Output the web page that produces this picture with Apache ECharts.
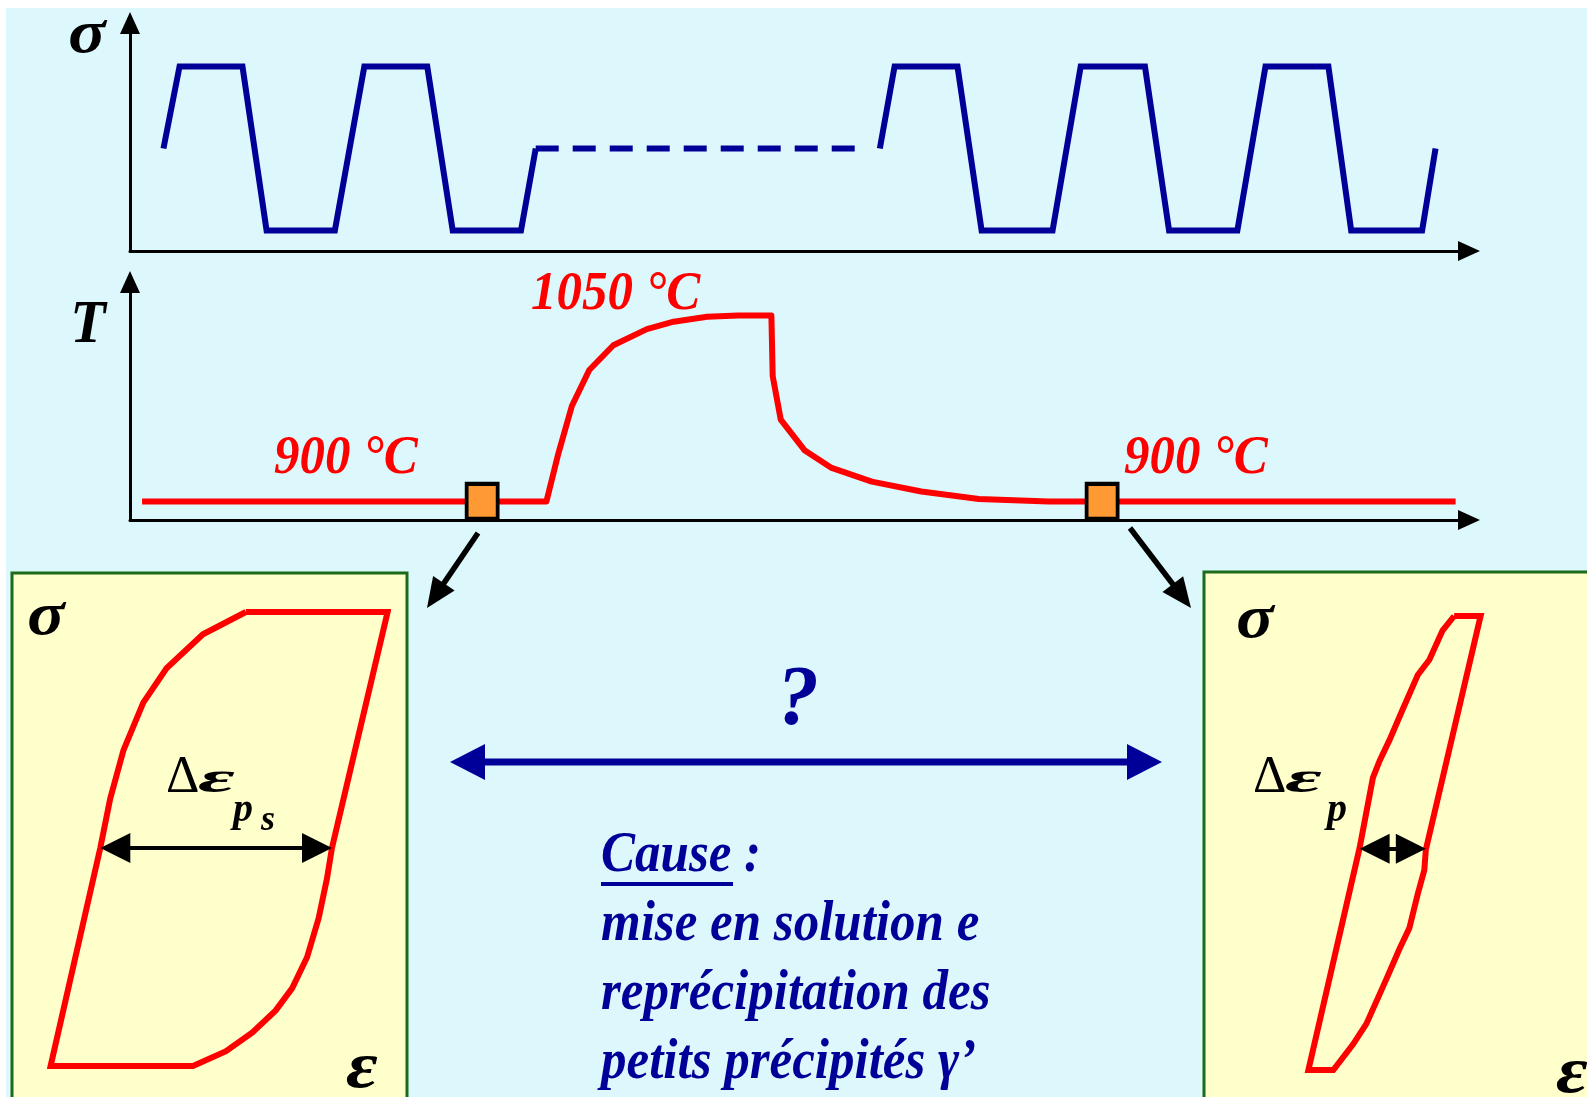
<!DOCTYPE html>
<html>
<head>
<meta charset="utf-8">
<script src="https://cdn.jsdelivr.net/npm/echarts@6/dist/echarts.min.js"></script>
<style>
  html, body { margin: 0; padding: 0; background: #ffffff; }
  #chart { width: 1587px; height: 1097px; }
</style>
</head>
<body>
<div id="chart"></div>
<script>
// ---- stress history: time (arbitrary units) vs stress (% of amplitude) ----
const sigmaCyclesBefore = [
  [2.5, 0], [3.7, 100], [8.4, 100], [10.2, -100], [15.3, -100],
  [17.5, 100], [22.2, 100], [24.1, -100], [29.2, -100], [30.3, 0]
];
const sigmaHold = [[30.3, 0], [54.8, 0]];
const sigmaCyclesAfter = [
  [56.0, 0], [57.1, 100], [61.8, 100], [63.6, -100], [68.9, -100],
  [71.0, 100], [75.8, 100], [77.6, -100], [82.7, -100],
  [84.8, 100], [89.5, 100], [91.2, -100], [96.5, -100], [97.5, 0]
];

// ---- temperature history: time vs temperature (°C) ----
const temperatureHistory = [
  [0.9, 900], [31.1, 900], [32.0, 939], [33.0, 977], [34.3, 1006],
  [36.1, 1026], [38.6, 1039], [40.6, 1045], [43.1, 1049], [45.4, 1050],
  [47.9, 1050], [48.0, 1001], [48.6, 966], [50.4, 941], [52.4, 927],
  [55.4, 916], [59.1, 908], [63.4, 902], [68.6, 900], [99.0, 900]
];
const sampleTimes = [26.3, 72.6];
const sampleTemperature = 900;

// ---- stabilised hysteresis loops: normalised strain vs normalised stress ----
const loopBefore = [
  [0.159, 1], [1, 1], [0.670, -0.039], [0.640, -0.175], [0.591, -0.348],
  [0.522, -0.521], [0.434, -0.657], [0.336, -0.755], [0.198, -0.852],
  [0.041, -0.935], [-0.155, -1], [-1, -1], [-0.705, -0.039], [-0.646, 0.179],
  [-0.568, 0.390], [-0.450, 0.601], [-0.312, 0.752], [-0.096, 0.902], [0.159, 1]
];
const loopAfter = [
  [0.354, 1], [0.511, 1], [0.186, -0.029], [0.177, -0.119], [0.138, -0.225],
  [0.088, -0.375], [0.030, -0.466], [-0.049, -0.601], [-0.167, -0.797],
  [-0.246, -0.887], [-0.363, -1], [-0.511, -1], [-0.207, -0.021], [-0.128, 0.288],
  [-0.088, 0.363], [-0.030, 0.453], [0.049, 0.589], [0.138, 0.740],
  [0.207, 0.807], [0.285, 0.936], [0.354, 1]
];
// plastic strain width (strain at both branches, stress level of the measure)
const widthBefore = [-0.705, 0.670, -0.04];
const widthAfter = [-0.207, 0.186, -0.025];

const tempLabels = ['900 °C', '1050 °C', '900 °C'];
const causeTitle = 'Cause';
const causeLines = ['mise en solution e', 'reprécipitation des', 'petits précipités γ’'];

// ---- layout & style ----
const SERIF = '"Liberation Serif", "Times New Roman", serif';
const BLUE = '#000099';
const RED = '#ff0000';
const LOOP_W = 337, LOOP_H = 454;
const HEAD = 30;
const IT = 'italic bold ';

const arrowAxis = {
  show: true,
  onZero: false,
  symbol: ['none', 'triangle'],
  symbolSize: [20, 22],
  lineStyle: { color: '#000000', width: 3 }
};
function timeAxis(grid) {
  return { gridIndex: grid, type: 'value', min: 0, max: 100,
    axisLine: arrowAxis, axisTick: { show: false }, axisLabel: { show: false },
    splitLine: { show: false } };
}
function levelAxis(grid, min, max) {
  return { gridIndex: grid, type: 'value', min: min, max: max,
    axisLine: arrowAxis, axisTick: { show: false }, axisLabel: { show: false },
    splitLine: { show: false } };
}
function hiddenAxis(grid) {
  return { gridIndex: grid, type: 'value', min: -1, max: 1, show: false,
    splitLine: { show: false } };
}

function txt(x, y, text, font, color, align, sx, sy) {
  return {
    type: 'text', x: x, y: y, z: 20, scaleX: sx || 1, scaleY: sy || 1,
    style: { text: text, font: font, fill: color,
      align: align || 'left', textAlign: align || 'left',
      verticalAlign: 'middle', textVerticalAlign: 'middle' }
  };
}
function arrow(x1, y1, x2, y2, color, width, headLen, headW) {
  const dx = x2 - x1, dy = y2 - y1, L = Math.hypot(dx, dy);
  const ux = dx / L, uy = dy / L;
  const bx = x2 - ux * headLen, by = y2 - uy * headLen;
  const px = -uy * headW / 2, py = ux * headW / 2;
  return [
    { type: 'line', z: 20, shape: { x1: x1, y1: y1, x2: bx + ux * 2, y2: by + uy * 2 },
      style: { stroke: color, lineWidth: width } },
    { type: 'polygon', z: 20, shape: { points: [[x2, y2], [bx + px, by + py], [bx - px, by - py]] },
      style: { fill: color } }
  ];
}

function loopSeries(axis, data, width) {
  const inset = (HEAD / 2) / (LOOP_W / 2);
  return {
    type: 'line', xAxisIndex: axis, yAxisIndex: axis, data: data,
    symbol: 'none', clip: false, silent: true,
    lineStyle: { color: RED, width: 6, join: 'miter' },
    markLine: {
      silent: true, animation: false,
      symbol: ['triangle', 'triangle'], symbolSize: [HEAD, HEAD],
      label: { show: false }, emphasis: { disabled: true },
      lineStyle: { color: '#000000', width: 4, type: 'solid' },
      data: [[{ coord: [width[0] + inset, width[2]] }, { coord: [width[1] - inset, width[2]] }]]
    }
  };
}

const graphics = [
  { type: 'rect', z: -100, shape: { x: 6, y: 8, width: 1581, height: 1089 }, style: { fill: '#dcf8fc' } },
  { type: 'rect', z: -50, shape: { x: 12, y: 573, width: 395, height: 540 },
    style: { fill: '#ffffcc', stroke: '#1b6b1b', lineWidth: 3 } },
  { type: 'rect', z: -50, shape: { x: 1204, y: 572, width: 400, height: 540 },
    style: { fill: '#ffffcc', stroke: '#1b6b1b', lineWidth: 3 } },

  // axis names
  txt(87, 36, 'σ', IT + '62px ' + SERIF, '#000000', 'center', 1.12, 1),
  txt(88, 326, 'T', IT + '58px ' + SERIF, '#000000', 'center', 1, 1.05),
  // temperature levels
  txt(274, 459, tempLabels[0], IT + '51px ' + SERIF, RED, 'left', 1, 1.06),
  txt(531, 295, tempLabels[1], IT + '51px ' + SERIF, RED, 'left', 1, 1.06),
  txt(1124, 459, tempLabels[2], IT + '51px ' + SERIF, RED, 'left', 1, 1.06),

  // loop axis names
  txt(46, 618, 'σ', IT + '62px ' + SERIF, '#000000', 'center', 1.12, 1),
  txt(362, 1070, 'ε', IT + '62px ' + SERIF, '#000000', 'center', 1.25, 1.05),
  txt(1255, 621, 'σ', IT + '62px ' + SERIF, '#000000', 'center', 1.12, 1),
  txt(1572, 1075, 'ε', IT + '62px ' + SERIF, '#000000', 'center', 1.25, 1.05),

  // plastic strain width labels
  txt(166, 778, 'Δ', '52px ' + SERIF, '#000000'),
  txt(198, 780, 'ε', IT + '45px ' + SERIF, '#000000', 'left', 2.0, 1),
  txt(233, 811, 'p', IT + '40px ' + SERIF, '#000000'),
  txt(261, 821, 's', IT + '36px ' + SERIF, '#000000'),
  txt(1253, 778, 'Δ', '52px ' + SERIF, '#000000'),
  txt(1285, 780, 'ε', IT + '45px ' + SERIF, '#000000', 'left', 2.0, 1),
  txt(1327, 811, 'p', IT + '40px ' + SERIF, '#000000'),

  // comparison annotation
  txt(798, 702, '?', IT + '84px ' + SERIF, BLUE, 'center'),
  txt(601, 857, causeTitle + ' :', IT + '51px ' + SERIF, BLUE, 'left', 1, 1.1),
  { type: 'line', z: 20, shape: { x1: 601, y1: 884, x2: 733, y2: 884 },
    style: { stroke: BLUE, lineWidth: 4 } }
];
causeLines.forEach(function (line, i) {
  graphics.push(txt(601, 926 + i * 69, line, IT + '51px ' + SERIF, BLUE, 'left', 1, 1.1));
});
// comparison arrow between the two loops
graphics.push({ type: 'line', z: 20, shape: { x1: 480, y1: 762, x2: 1132, y2: 762 },
  style: { stroke: BLUE, lineWidth: 7 } });
graphics.push({ type: 'polygon', z: 20, shape: { points: [[450, 762], [485, 744], [485, 780]] }, style: { fill: BLUE } });
graphics.push({ type: 'polygon', z: 20, shape: { points: [[1162, 762], [1127, 744], [1127, 780]] }, style: { fill: BLUE } });
// arrows from the sampling points down to their loops
arrow(478, 533, 427, 608, '#000000', 5.5, 30, 26).forEach(function (g) { graphics.push(g); });
arrow(1130, 528, 1191, 608, '#000000', 5.5, 30, 26).forEach(function (g) { graphics.push(g); });

const option = {
  animation: false,
  backgroundColor: '#ffffff',
  grid: [
    { left: 130, top: 23, width: 1339, height: 228, outerBoundsMode: 'none' },
    { left: 130, top: 282, width: 1339, height: 238, outerBoundsMode: 'none' },
    { left: 50.6, top: 612, width: LOOP_W, height: LOOP_H, outerBoundsMode: 'none' },
    { left: 1226, top: 616, width: LOOP_W, height: LOOP_H, outerBoundsMode: 'none' }
  ],
  xAxis: [timeAxis(0), timeAxis(1), hiddenAxis(2), hiddenAxis(3)],
  yAxis: [levelAxis(0, -125, 153), levelAxis(1, 885, 1077), hiddenAxis(2), hiddenAxis(3)],
  series: [
    { type: 'line', xAxisIndex: 0, yAxisIndex: 0, data: sigmaCyclesBefore, symbol: 'none',
      clip: false, silent: true, lineStyle: { color: BLUE, width: 6, join: 'miter' } },
    { type: 'line', xAxisIndex: 0, yAxisIndex: 0, data: sigmaHold, symbol: 'none',
      clip: false, silent: true, lineStyle: { color: BLUE, width: 6, type: [23, 14] } },
    { type: 'line', xAxisIndex: 0, yAxisIndex: 0, data: sigmaCyclesAfter, symbol: 'none',
      clip: false, silent: true, lineStyle: { color: BLUE, width: 6, join: 'miter' } },
    { type: 'line', xAxisIndex: 1, yAxisIndex: 1, data: temperatureHistory, symbol: 'none',
      clip: false, silent: true, lineStyle: { color: RED, width: 6, join: 'round' } },
    { type: 'scatter', xAxisIndex: 1, yAxisIndex: 1, z: 5, silent: true,
      data: sampleTimes.map(function (t) { return [t, sampleTemperature]; }),
      symbol: 'rect', symbolSize: [31, 35],
      itemStyle: { color: '#ff9933', borderColor: '#000000', borderWidth: 4, opacity: 1 } },
    loopSeries(2, loopBefore, widthBefore),
    loopSeries(3, loopAfter, widthAfter)
  ],
  graphic: { elements: graphics }
};

const chart = echarts.init(document.getElementById('chart'));
chart.setOption(option);
</script>
</body>
</html>
